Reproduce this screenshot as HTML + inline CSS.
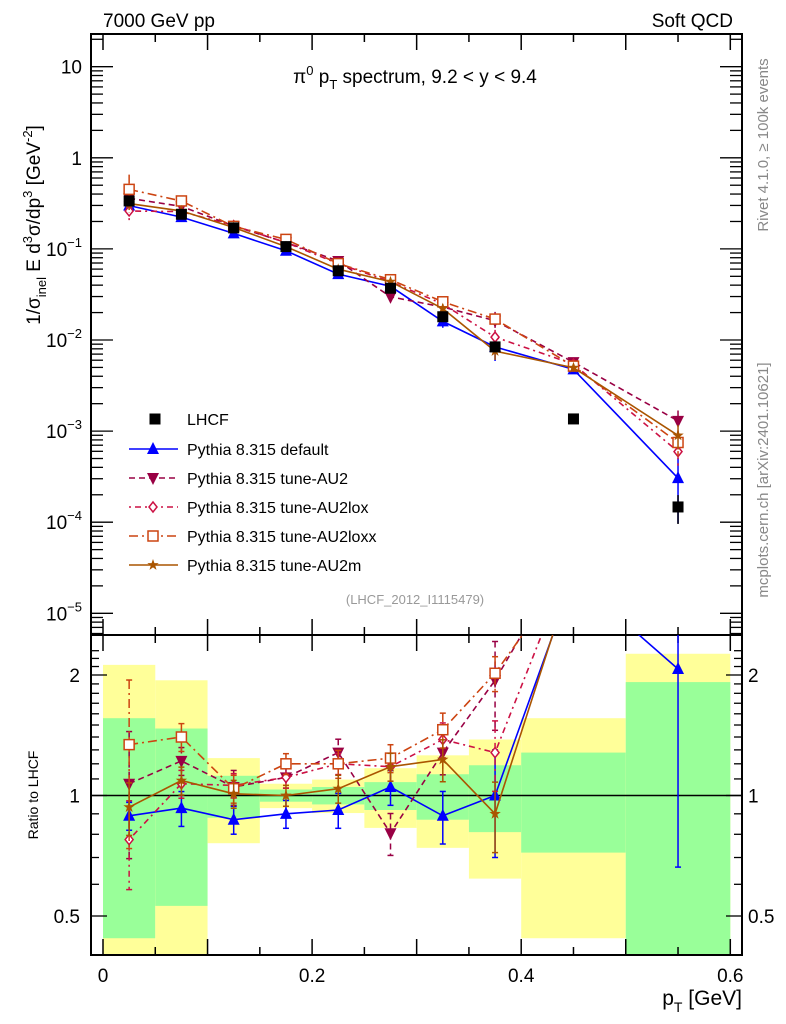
<!DOCTYPE html>
<html><head><meta charset="utf-8"><style>
html,body{margin:0;background:#fff;overflow:hidden;width:786px;height:1024px}
svg{display:block}
svg text{font-family:"Liberation Sans",sans-serif}
</style></head><body>
<svg id="chart" width="786" height="1024" viewBox="0 0 786 1024" xmlns="http://www.w3.org/2000/svg">
<defs>
<clipPath id="cm"><rect x="91" y="34" width="651" height="601"/></clipPath>
<clipPath id="cr"><rect x="91" y="635" width="651" height="320"/></clipPath>
</defs>
<g id="bands" clip-path="url(#cr)"></g>
<g id="axes"></g>
<g id="mainG" clip-path="url(#cm)"></g>
<g id="ratioG" clip-path="url(#cr)"></g>
<g id="legend"></g>
<text x="103" y="27" font-size="19">7000 GeV pp</text>
<text x="733" y="27" font-size="19" text-anchor="end">Soft QCD</text>
<text x="415" y="83" font-size="19" text-anchor="middle">π<tspan dy="-8" font-size="13">0</tspan><tspan dy="8"> p</tspan><tspan dy="6" font-size="13">T</tspan><tspan dy="-6"> spectrum, 9.2 &lt; y &lt; 9.4</tspan></text>
<text x="415" y="604" font-size="13" fill="#999" text-anchor="middle">(LHCF_2012_I1115479)</text>
<text transform="translate(40,225) rotate(-90)" font-size="19" text-anchor="middle">1/σ<tspan dy="6" font-size="13">inel</tspan><tspan dy="-6"> E d</tspan><tspan dy="-8" font-size="13">3</tspan><tspan dy="8">σ/dp</tspan><tspan dy="-8" font-size="13">3</tspan><tspan dy="8"> [GeV</tspan><tspan dy="-8" font-size="13">-2</tspan><tspan dy="8">]</tspan></text>
<text transform="translate(38,795) rotate(-90)" font-size="14" text-anchor="middle">Ratio to LHCF</text>
<text x="742" y="1005" font-size="21" text-anchor="end">p<tspan dy="7" font-size="14">T</tspan><tspan dy="-7"> [GeV]</tspan></text>
<text transform="translate(768,145) rotate(-90)" font-size="15" fill="#888" text-anchor="middle">Rivet 4.1.0, ≥ 100k events</text>
<text transform="translate(768,480) rotate(-90)" font-size="15" fill="#888" text-anchor="middle">mcplots.cern.ch [arXiv:2401.10621]</text>
</svg>
<script>
const binLo=[0,0.05,0.1,0.15,0.2,0.25,0.3,0.35,0.4,0.5];
const binHi=[0.05,0.1,0.15,0.2,0.25,0.3,0.35,0.4,0.5,0.6];
const lhcf=[0.336,0.24,0.170,0.106,0.0575,0.037,0.018,0.0084,0.00136,0.000147];
const lhcfErr=[0.05,0.05,0.05,0.05,0.05,0.05,0.05,0.05,0.05,0.35];
const greenBand=[0.56,0.47,0.12,0.035,0.05,0.08,0.13,0.19,0.28,0.92];
const yellowBand=[1.12,0.94,0.24,0.07,0.096,0.17,0.26,0.38,0.56,1.26];
const rDefault=[0.89,0.93,0.87,0.90,0.92,1.05,0.89,1.0,3.5,2.07];
const rAU2=[1.07,1.22,1.05,1.11,1.28,0.805,1.28,1.94,4.2,8.8];
const rAU2lox=[0.776,1.07,1.06,1.11,1.2,1.18,1.38,1.28,4.0,4.05];
const rAU2loxx=[1.34,1.4,1.04,1.2,1.2,1.24,1.46,2.02,3.8,5.1];
const rAU2m=[0.935,1.09,1.01,1.0,1.04,1.18,1.23,0.9,3.65,6.1];
const eDefault=[0.08,0.1,0.08,0.08,0.1,0.1,0.15,0.3,0.1,0.68];
const eAU2=[0.35,0.08,0.1,0.06,0.08,0.12,0.12,0.25,0.1,0.3];
const eAU2lox=[0.25,0.08,0.07,0.06,0.06,0.08,0.1,0.2,0.1,0.3];
const eAU2loxx=[0.45,0.08,0.08,0.06,0.08,0.08,0.1,0.1,0.1,0.3];
const eAU2m=[0.15,0.08,0.08,0.06,0.08,0.08,0.12,0.2,0.1,0.3];
const seriesNames=["Pythia 8.315 default","Pythia 8.315 tune-AU2","Pythia 8.315 tune-AU2lox","Pythia 8.315 tune-AU2loxx","Pythia 8.315 tune-AU2m"];
const xTickLabels=["0","0.2","0.4","0.6"];
const yMainLabels=[1,0,-1,-2,-3,-4,-5];
const yRatioLabels=[0.5,1,2];

const NS="http://www.w3.org/2000/svg";
const X=v=>103+v*1045.5;
const YM=v=>157.8-91.1*Math.log10(v);
const YR=v=>795.5-400.3*Math.log10(v);
function mk(p,tag,at){const e=document.createElementNS(NS,tag);for(const k in at)e.setAttribute(k,at[k]);p.appendChild(e);return e;}
const axes=document.getElementById('axes'),bands=document.getElementById('bands');
const mainG=document.getElementById('mainG'),ratioG=document.getElementById('ratioG'),leg=document.getElementById('legend');

binLo.forEach((lo,i)=>{
  let y=mk(bands,'rect',{x:X(lo),y:YR(1+yellowBand[i]),width:X(binHi[i])-X(lo),height:YR(Math.max(1-yellowBand[i],0.01))-YR(1+yellowBand[i]),fill:'#ffff99'});
  
  
  let g=mk(bands,'rect',{x:X(lo),y:YR(1+greenBand[i]),width:X(binHi[i])-X(lo),height:YR(Math.max(1-greenBand[i],0.01))-YR(1+greenBand[i]),fill:'#99ff99'});
  
  
});

mk(axes,'rect',{x:91,y:34,width:651,height:601,fill:'none',stroke:'#000','stroke-width':2});
mk(axes,'rect',{x:91,y:635,width:651,height:320,fill:'none',stroke:'#000','stroke-width':2});
mk(axes,'line',{x1:91,x2:742,y1:YR(1),y2:YR(1),stroke:'#000','stroke-width':1.5});
for(let k=0;k<=12;k++){const v=k*0.05,x=X(v),L=k%2?8:16;
  [[34,34+L],[635,635-L],[635,635+L],[955,955-L]].forEach(a=>mk(axes,'line',{x1:x,x2:x,y1:a[0],y2:a[1],stroke:'#000','stroke-width':1.5}));}
xTickLabels.forEach((t,i)=>{const e=mk(axes,'text',{x:X(i*0.2),y:982,'font-size':19,'text-anchor':'middle'});e.textContent=t;
  
  });
for(let d=-6;d<=1;d++){for(let m=1;m<10;m++){const v=m*Math.pow(10,d),y=YM(v);if(y<35||y>634)continue;const L=m==1?22:12;
  mk(axes,'line',{x1:91,x2:91+L,y1:y,y2:y,stroke:'#000','stroke-width':1.3});mk(axes,'line',{x1:742,x2:742-L,y1:y,y2:y,stroke:'#000','stroke-width':1.3});}}
yMainLabels.forEach(d=>{const e=mk(axes,'text',{x:82,y:YM(Math.pow(10,d))+7,'font-size':19,'text-anchor':'end'});
  
  
  if(d==1)e.textContent='10';else if(d==0)e.textContent='1';else{e.innerHTML='10<tspan dy="-9" font-size="13">−'+(-d)+'</tspan>';}});
for(let k=4;k<=23;k++){const v=k/10,y=YR(v);if(y<636||y>954)continue;const L=(k==5||k==10||k==20)?16:8;
  mk(axes,'line',{x1:91,x2:91+L,y1:y,y2:y,stroke:'#000','stroke-width':1.3});mk(axes,'line',{x1:742,x2:742-L,y1:y,y2:y,stroke:'#000','stroke-width':1.3});}
yRatioLabels.forEach(v=>{[[80,'end'],[748,'start']].forEach(p=>{const e=mk(axes,'text',{x:p[0],y:YR(v)+7,'font-size':19,'text-anchor':p[1]});e.textContent=String(v);
  
  });});

const styles=[
 {r:rDefault,e:eDefault,c:'#0000ff',d:'',m:'tri'},
 {r:rAU2,e:eAU2,c:'#990044',d:'6,4',m:'dtri'},
 {r:rAU2lox,e:eAU2lox,c:'#cc1144',d:'2,4,6,4',m:'dia'},
 {r:rAU2loxx,e:eAU2loxx,c:'#cc4411',d:'9,4,2,4',m:'sq'},
 {r:rAU2m,e:eAU2m,c:'#aa5500',d:'',m:'star'}];
function marker(g,type,x,y,c){
  if(type=='tri')return mk(g,'polygon',{points:`${x},${y-7} ${x-6},${y+5} ${x+6},${y+5}`,fill:c});
  if(type=='dtri')return mk(g,'polygon',{points:`${x},${y+7} ${x-6},${y-5} ${x+6},${y-5}`,fill:c});
  if(type=='dia')return mk(g,'polygon',{points:`${x},${y-5} ${x+4},${y} ${x},${y+5} ${x-4},${y}`,fill:'#fff',stroke:c,'stroke-width':1.5});
  if(type=='sq')return mk(g,'rect',{x:x-5,y:y-5,width:10,height:10,fill:'#fff',stroke:c,'stroke-width':1.5});
  if(type=='star'){let p=[];for(let i=0;i<10;i++){const a=-Math.PI/2+i*Math.PI/5,r=i%2?2.4:6;p.push((x+r*Math.cos(a)).toFixed(1)+','+(y+r*Math.sin(a)).toFixed(1));}return mk(g,'polygon',{points:p.join(' '),fill:c});}
  if(type=='box')return mk(g,'rect',{x:x-5.5,y:y-5.5,width:11,height:11,fill:c});
}
styles.forEach((s,si)=>{
  const pm=[],pr=[];
  binLo.forEach((lo,i)=>{const x=X((lo+binHi[i])/2);pm.push(x+','+YM(lhcf[i]*s.r[i]).toFixed(1));pr.push(x+','+YR(s.r[i]).toFixed(1));});
  const l1=mk(mainG,'polyline',{points:pm.join(' '),fill:'none',stroke:s.c,'stroke-width':1.6,'stroke-dasharray':s.d});
  
  
  const l2=mk(ratioG,'polyline',{points:pr.join(' '),fill:'none',stroke:s.c,'stroke-width':1.6,'stroke-dasharray':s.d});
  
  
  binLo.forEach((lo,i)=>{const x=X((lo+binHi[i])/2);
    const v=lhcf[i]*s.r[i],e=s.e[i];
    mk(mainG,'line',{x1:x,x2:x,y1:YM(v*(1+e)),y2:YM(v*Math.max(1-e,0.05)),stroke:s.c,'stroke-width':1.5,'stroke-dasharray':s.d});
    mk(ratioG,'line',{x1:x,x2:x,y1:YR(s.r[i]*(1+e)),y2:YR(s.r[i]*Math.max(1-e,0.05)),stroke:s.c,'stroke-width':1.5,'stroke-dasharray':s.d});
    [YR(s.r[i]*(1+e)),YR(s.r[i]*Math.max(1-e,0.05))].forEach(y=>mk(ratioG,'line',{x1:x-3,x2:x+3,y1:y,y2:y,stroke:s.c,'stroke-width':1.5}));
    const m1=marker(mainG,s.m,x,YM(v),s.c);
    
    
    const m2=marker(ratioG,s.m,x,YR(s.r[i]),s.c);
    
    
  });
});
binLo.forEach((lo,i)=>{const x=X((lo+binHi[i])/2),v=lhcf[i];
  mk(mainG,'line',{x1:x,x2:x,y1:YM(v*(1+lhcfErr[i])),y2:YM(v*(1-lhcfErr[i])),stroke:'#000','stroke-width':1.5});
  const m=marker(mainG,'box',x,YM(v),'#000');
  
  });

const legY=[419,449,478,507,536,565];
let lb=marker(leg,'box',155,legY[0],'#000');


let lt=mk(leg,'text',{x:187,y:legY[0]+6,'font-size':16});lt.textContent='LHCF';


styles.forEach((s,si)=>{const y=legY[si+1];
  mk(leg,'line',{x1:129,x2:178,y1:y,y2:y,stroke:s.c,'stroke-width':1.6,'stroke-dasharray':s.d});
  const m=marker(leg,s.m,153,y,s.c);
  
  
  const t=mk(leg,'text',{x:187,y:y+6,'font-size':16});t.textContent=seriesNames[si];
  
  });
</script>
</body></html>
